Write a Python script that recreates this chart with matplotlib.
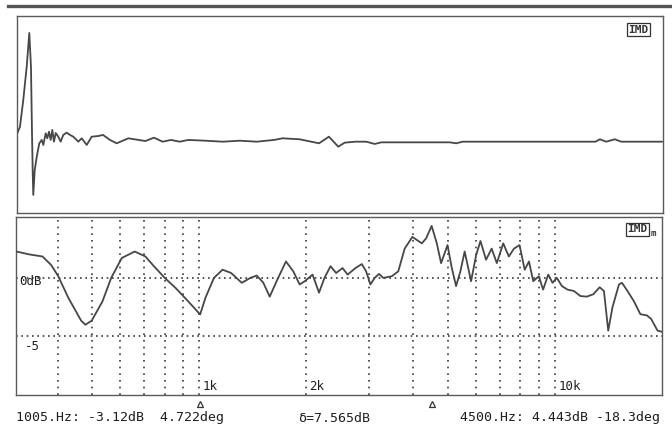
import matplotlib.pyplot as plt
from matplotlib.lines import Line2D
import matplotlib.transforms as mtransforms

# ==========================================================
# DATOS
# ==========================================================

# impulse response (arbitrary time units 0..100, normalised amplitude)
imp_t = [0.12, 0.54, 1.05, 1.58, 1.98, 2.24, 2.40, 2.51, 2.60, 2.82, 3.13, 3.53,
         3.90, 4.15, 4.52, 4.77, 5.03, 5.29, 5.54, 5.80, 6.07, 6.47, 6.84, 7.24,
         7.77, 8.28, 8.79, 9.57, 10.09, 10.87, 11.64, 12.66, 13.39, 14.47, 15.51,
         17.31, 19.95, 21.28, 22.62, 23.92, 25.26, 26.59, 29.26, 31.90, 34.55,
         37.21, 39.86, 41.19, 43.84, 46.83, 48.36, 49.81, 50.80, 52.48, 54.13,
         55.46, 56.46, 67.07, 68.07, 69.06, 89.63, 90.29, 91.28, 92.62, 93.61, 99.9]
imp_v = [0.077, 0.138, 0.384, 0.69, 1.0, 0.69, 0.08, -0.29, -0.49, -0.26, -0.14,
         -0.015, 0.016, -0.03, 0.077, 0.031, 0.092, 0.016, 0.108, 0.0, 0.08, 0.046,
         0.0, 0.062, 0.083, 0.062, 0.046, 0.0, 0.031, -0.03, 0.046, 0.052, 0.062,
         0.016, -0.015, 0.031, 0.006, 0.037, 0.0, 0.016, 0.0, 0.016, 0.009, 0.0,
         0.009, 0.0, 0.016, 0.031, 0.022, -0.015, 0.046, -0.046, -0.009, 0.0, 0.0,
         -0.021, -0.006, -0.006, -0.015, 0.0, 0.0, 0.022, 0.0, 0.022, 0.0, 0.0]

# frequency response (Hz, dB)
freq_hz = [306, 333, 362, 383, 401, 428, 465, 478, 498, 534, 565, 605, 658, 705,
           745, 799, 856, 930, 1005, 1040, 1099, 1162, 1228, 1316, 1391, 1450,
           1512, 1577, 1657, 1752, 1837, 1914, 1980, 2081, 2170, 2248, 2338, 2424,
           2527, 2612, 2747, 2863, 2944, 3027, 3112, 3199, 3289, 3477, 3625, 3779,
           3972, 4222, 4341, 4500, 4653, 4784, 4987, 5128, 5272, 5420, 5573, 5809,
           6005, 6174, 6400, 6637, 6863, 7154, 7418, 7670, 7951, 8220, 8451, 8689,
           9008, 9261, 9574, 9843, 10120, 10462, 10846, 11309, 11790, 12290, 12813,
           13358, 13733, 14119, 14516, 15135, 15432, 15996, 16677, 17387, 18128,
           18637, 19431, 19977]
mag_db = [2.25, 2.0, 1.83, 1.1, 0.14, -1.7, -3.65, -4.0, -3.65, -2.0, 0.0, 1.7,
          2.25, 1.83, 1.0, 0.0, -0.84, -2.0, -3.12, -1.7, 0.0, 0.7, 0.42, -0.42,
          0.0, 0.2, -0.4, -1.6, -0.14, 1.4, 0.56, -0.56, -0.28, 0.28, -1.26, 0.0,
          1.0, 0.42, 0.84, 0.28, 0.84, 1.18, 0.56, -0.56, 0.0, 0.34, 0.0, 0.14,
          0.56, 2.5, 3.5, 2.95, 3.37, 4.443, 2.95, 1.26, 2.8, 0.84, -0.7, 0.56,
          2.25, -0.28, 1.97, 3.15, 1.55, 2.5, 1.26, 2.95, 1.83, 2.5, 2.8, 0.7, 1.4,
          -0.28, 0.14, -1.0, 0.28, -0.42, 0.0, -0.7, -1.0, -1.12, -1.55, -1.6, -1.4,
          -0.8, -1.12, -4.5, -2.5, -0.56, -0.42, -1.12, -2.0, -3.1, -3.2, -3.5,
          -4.5, -4.6]

grid_freqs = [400, 500, 600, 700, 800, 900, 1000, 2000, 3000, 4000, 5000,
              6000, 7000, 8000, 9000, 10000]
freq_labels = {1000: "1k", 2000: "2k", 10000: "10k"}
db_lines = [0, -5]
db_labels = ["0dB", "-5"]
cursor_freqs = [1005, 4500]

readout_left = "1005.Hz: -3.12dB  4.722deg"
readout_mid = "δ=7.565dB"
readout_right = "4500.Hz: 4.443dB -18.3deg"

# ==========================================================
# ESTILO
# ==========================================================

TRACE = "#474747"
FRAME = "#5a5a5a"
GRID = "#3a3a3a"
TXT = "#1e1e1e"
FONT = "DejaVu Sans Mono"

fig = plt.figure(figsize=(6.72, 4.30), dpi=100, facecolor="white")

# thick rule across the top
fig.add_artist(Line2D([8 / 672, 1.0], [1 - 5.5 / 430] * 2, color="#555555",
                      linewidth=2.4, transform=fig.transFigure))

# ----------------------------------------------------------
# Panel superior: respuesta al impulso
# ----------------------------------------------------------
ax1 = fig.add_axes([16.5 / 672, 1 - 213 / 430, 646 / 672, 197 / 430])
ax1.plot(imp_t, imp_v, color=TRACE, linewidth=1.3)
ax1.set_xlim(0, 100)
ax1.set_ylim(-0.656, 1.156)
ax1.set_xticks([])
ax1.set_yticks([])
for s in ax1.spines.values():
    s.set_color(FRAME)
    s.set_linewidth(1.0)
ax1.text(0.978, 0.93, "IMD", transform=ax1.transAxes, ha="right", va="center",
         fontsize=8, fontweight="bold", family=FONT, color="#333333",
         bbox=dict(boxstyle="square,pad=0.12", fc="white", ec="#333333", lw=0.9))

# ----------------------------------------------------------
# Panel inferior: respuesta en frecuencia
# ----------------------------------------------------------
ax2 = fig.add_axes([16 / 672, 1 - 395 / 430, 646 / 672, 178 / 430])
ax2.set_xscale("log")
ax2.set_xlim(305, 20000)
ax2.set_ylim(-10, 5.2)
ax2.set_xticks([])
ax2.set_yticks([])
ax2.minorticks_off()
for s in ax2.spines.values():
    s.set_color(FRAME)
    s.set_linewidth(1.0)

for f in grid_freqs:
    ax2.axvline(f, color=GRID, linewidth=1.2, linestyle=(0, (1, 3)), zorder=1)
for d in db_lines:
    ax2.axhline(d, color=GRID, linewidth=1.2, linestyle=(0, (1, 2.2)), zorder=1)

ax2.plot(freq_hz, mag_db, color=TRACE, linewidth=1.3, zorder=3)

xt = mtransforms.blended_transform_factory(ax2.transData, ax2.transAxes)
for f, lab in freq_labels.items():
    ax2.text(f * 1.02, 0.05, lab, transform=xt, ha="left", va="center",
             fontsize=9, family=FONT, color=TXT)

ax2.text(312, db_lines[0] - 0.35, db_labels[0], ha="left", va="center",
         fontsize=9, family=FONT, color=TXT)
ax2.text(322, db_lines[1] - 0.9, db_labels[1], ha="left", va="center",
         fontsize=9, family=FONT, color=TXT)

ax2.text(0.978, 0.93, "IMD", transform=ax2.transAxes, ha="right", va="center",
         fontsize=8, fontweight="bold", family=FONT, color="#333333",
         bbox=dict(boxstyle="square,pad=0.12", fc="white", ec="#333333", lw=0.9))
ax2.text(0.982, 0.905, "m", transform=ax2.transAxes, ha="left", va="center",
         fontsize=6.5, fontweight="bold", family=FONT, color="#333333")

# cursor markers below the axis
ax2.plot(cursor_freqs, [-0.05] * len(cursor_freqs), transform=xt, marker="^",
         linestyle="none", markersize=5, markerfacecolor="white",
         markeredgecolor="#333333", markeredgewidth=0.9, clip_on=False)

# ----------------------------------------------------------
# Lectura de cursores
# ----------------------------------------------------------
fig.text(16 / 672, 1 - 418 / 430, readout_left, ha="left", va="center",
         fontsize=9.5, family=FONT, color=TXT)
fig.text(298 / 672, 1 - 418 / 430, readout_mid, ha="left", va="center",
         fontsize=9.5, family=FONT, color=TXT)
fig.text(660 / 672, 1 - 418 / 430, readout_right, ha="right", va="center",
         fontsize=9.5, family=FONT, color=TXT)

plt.savefig("out.png", dpi=100, facecolor="white")
plt.close()
